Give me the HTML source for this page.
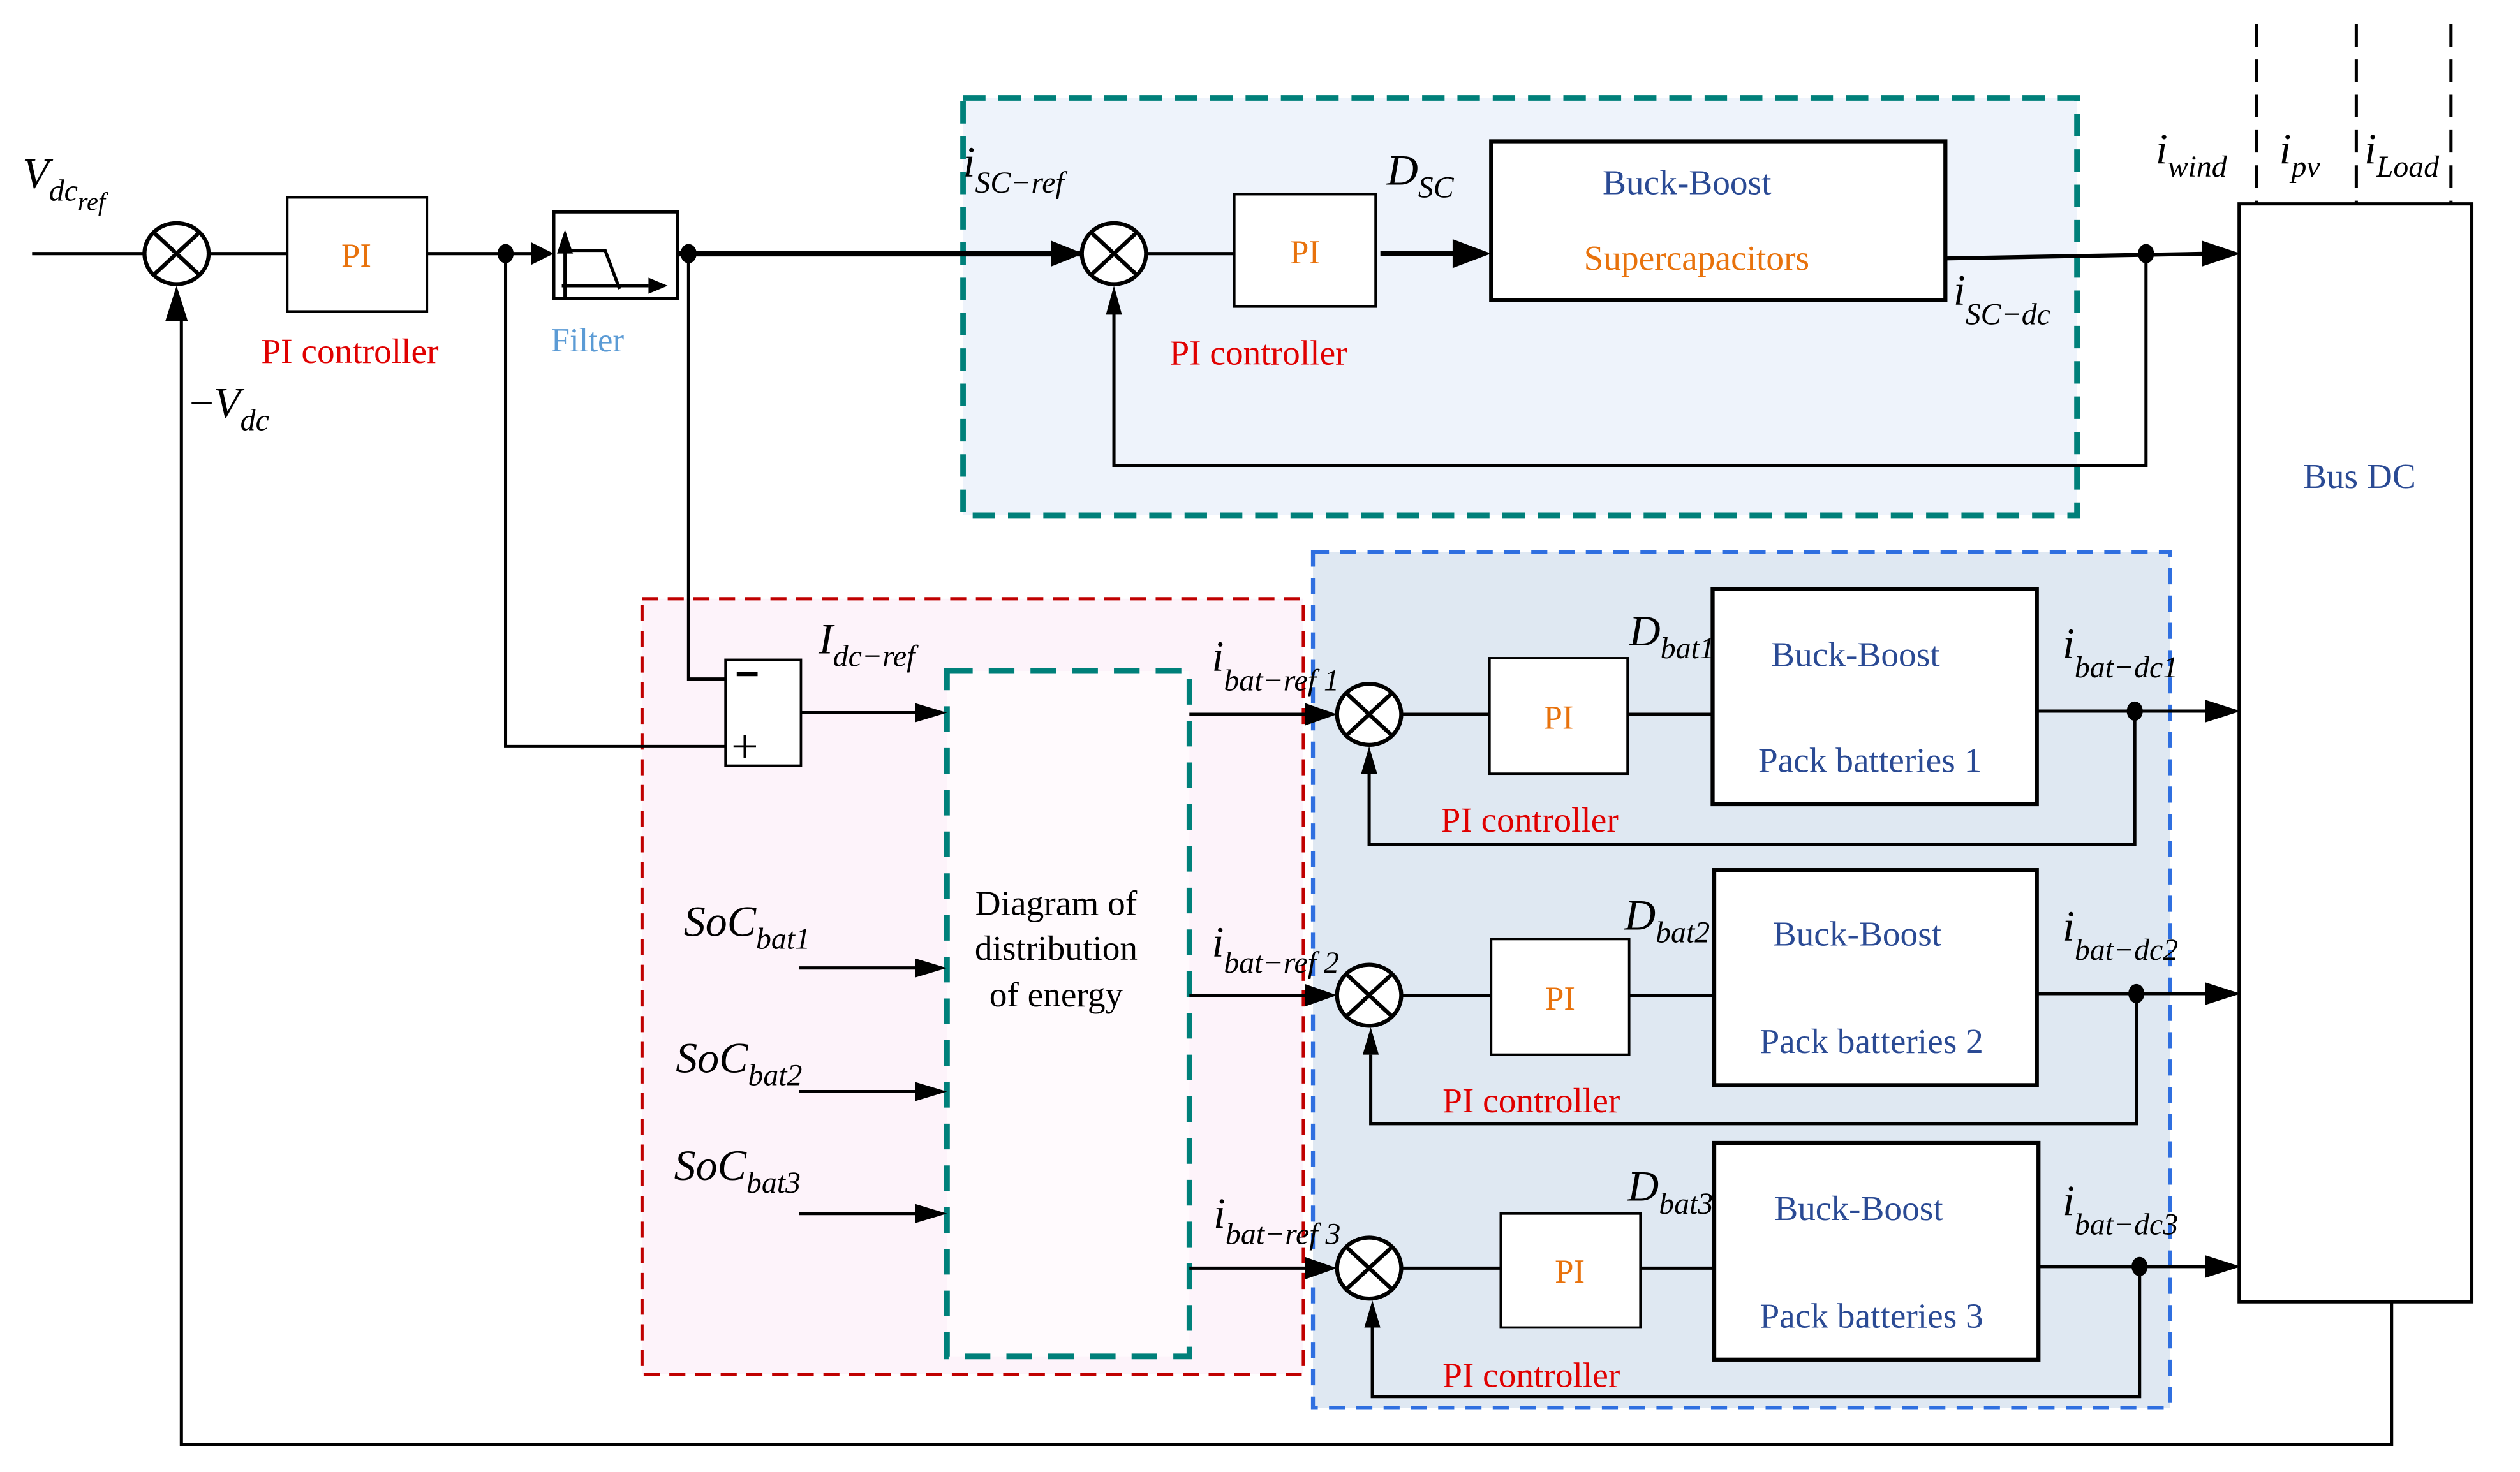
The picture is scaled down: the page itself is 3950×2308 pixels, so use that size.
<!DOCTYPE html>
<html><head><meta charset="utf-8"><style>
html,body{margin:0;padding:0;background:#fff;}
svg{display:block;}
text{font-family:"Liberation Serif",serif;}
.m{font-style:italic;fill:#000;font-size:27px;}
.s{font-size:19px;}
.r{fill:#e00000;font-size:22px;}
.o{fill:#e8720c;font-size:21px;}
.b{fill:#2a4a94;font-size:22px;}
</style></head><body>
<svg width="3950" height="2308" viewBox="0 0 1570 917" preserveAspectRatio="none" xmlns="http://www.w3.org/2000/svg">
<rect width="1570" height="917" fill="#fff"/>
<!-- panels -->
<rect x="600" y="61" width="694" height="260" fill="#eef3fb" stroke="#00807a" stroke-width="3.5" stroke-dasharray="14,8"/>
<rect x="400" y="373" width="412" height="483" fill="#fdf3fa" stroke="#c00000" stroke-width="2" stroke-dasharray="10,6"/>
<rect x="818" y="344" width="534" height="533" fill="#dfe8f2" stroke="#2f6fe0" stroke-width="2.5" stroke-dasharray="10,7"/>
<rect x="590" y="418" width="151" height="427" fill="#fffafd" stroke="#00807a" stroke-width="3.5" stroke-dasharray="16,10"/>

<g stroke="#000" stroke-width="2" fill="none">
<line x1="20" y1="158" x2="90" y2="158"/>
<line x1="130" y1="158" x2="179" y2="158"/>
<line x1="266" y1="158" x2="335" y2="158"/>
<line x1="422" y1="158" x2="674" y2="158" stroke-width="3.5"/>
<line x1="714" y1="158" x2="769" y2="158"/>
<line x1="860" y1="158" x2="910" y2="158" stroke-width="3"/>
<line x1="1212" y1="161" x2="1378" y2="158" stroke-width="2.5"/>
<polyline points="1337,158 1337,290 694,290 694,195"/>
<polyline points="1490,811 1490,900 113,900 113,195"/>
<polyline points="429,158 429,423 452,423"/>
<polyline points="315,158 315,465 452,465"/>
<line x1="499" y1="444" x2="572" y2="444"/>
<line x1="498" y1="603" x2="572" y2="603"/>
<line x1="498" y1="680" x2="572" y2="680"/>
<line x1="498" y1="756" x2="572" y2="756"/>
<line x1="741" y1="445" x2="815" y2="445"/>
<line x1="873" y1="445" x2="928" y2="445"/>
<line x1="1014" y1="445" x2="1067" y2="445"/>
<line x1="1269" y1="443" x2="1378" y2="443"/>
<polyline points="1330,443 1330,526 853,526 853,482"/>
<line x1="741" y1="620" x2="815" y2="620"/>
<line x1="873" y1="620" x2="929" y2="620"/>
<line x1="1015" y1="620" x2="1068" y2="620"/>
<line x1="1269" y1="619" x2="1378" y2="619"/>
<polyline points="1331,619 1331,700 854,700 854,657"/>
<line x1="741" y1="790" x2="815" y2="790"/>
<line x1="873" y1="790" x2="935" y2="790"/>
<line x1="1022" y1="790" x2="1068" y2="790"/>
<line x1="1270" y1="789" x2="1378" y2="789"/>
<polyline points="1333,789 1333,870 855,870 855,827"/>
<line x1="1406" y1="15" x2="1406" y2="127" stroke-dasharray="14,8"/>
<line x1="1468" y1="15" x2="1468" y2="127" stroke-dasharray="14,8"/>
<line x1="1527" y1="15" x2="1527" y2="127" stroke-dasharray="14,8"/>
</g>
<g fill="#000">
<polygon points="345,158 331,151 331,165"/>
<polygon points="675,158 655,150 655,166"/>
<polygon points="929,158 905,149 905,167"/>
<polygon points="1396,158 1372,150 1372,166"/>
<polygon points="694,178 689,196 699,196"/>
<polygon points="110,178 103,200 117,200"/>
<polygon points="590,444 570,438 570,450"/>
<polygon points="590,603 570,597 570,609"/>
<polygon points="590,680 570,674 570,686"/>
<polygon points="590,756 570,750 570,762"/>
<polygon points="833,445 813,438 813,452"/>
<polygon points="833,620 813,613 813,627"/>
<polygon points="833,790 813,783 813,797"/>
<polygon points="853,465 848,482 858,482"/>
<polygon points="854,640 849,657 859,657"/>
<polygon points="855,810 850,827 860,827"/>
<polygon points="1396,443 1374,436 1374,450"/>
<polygon points="1396,619 1374,612 1374,626"/>
<polygon points="1396,789 1374,782 1374,796"/>
<ellipse cx="315" cy="158" rx="5" ry="6"/>
<ellipse cx="429" cy="158" rx="5" ry="6"/>
<ellipse cx="1337" cy="158" rx="5" ry="6"/>
<ellipse cx="1330" cy="443" rx="5" ry="6"/>
<ellipse cx="1331" cy="619" rx="5" ry="6"/>
<ellipse cx="1333" cy="789" rx="5" ry="6"/>
</g>
<g stroke="#000" stroke-width="2.5" fill="#fff">
<g transform="translate(110,158)"><ellipse rx="20" ry="19"/><line x1="-14" y1="-13" x2="14" y2="13"/><line x1="-14" y1="13" x2="14" y2="-13"/></g>
<g transform="translate(694,158)"><ellipse rx="20" ry="19"/><line x1="-14" y1="-13" x2="14" y2="13"/><line x1="-14" y1="13" x2="14" y2="-13"/></g>
<g transform="translate(853,445)"><ellipse rx="20" ry="19"/><line x1="-14" y1="-13" x2="14" y2="13"/><line x1="-14" y1="13" x2="14" y2="-13"/></g>
<g transform="translate(853,620)"><ellipse rx="20" ry="19"/><line x1="-14" y1="-13" x2="14" y2="13"/><line x1="-14" y1="13" x2="14" y2="-13"/></g>
<g transform="translate(853,790)"><ellipse rx="20" ry="19"/><line x1="-14" y1="-13" x2="14" y2="13"/><line x1="-14" y1="13" x2="14" y2="-13"/></g>
</g>
<g stroke="#000" fill="#fff">
<rect x="179" y="123" width="87" height="71" stroke-width="1.5"/>
<rect x="345" y="132" width="77" height="54" stroke-width="2"/>
<rect x="769" y="121" width="88" height="70" stroke-width="1.5"/>
<rect x="929" y="88" width="283" height="99" stroke-width="2.5"/>
<rect x="1395" y="127" width="145" height="684" stroke-width="2"/>
<rect x="452" y="411" width="47" height="66" stroke-width="1.5"/>
<rect x="928" y="410" width="86" height="72" stroke-width="1.5"/>
<rect x="929" y="585" width="86" height="72" stroke-width="1.5"/>
<rect x="935" y="756" width="87" height="71" stroke-width="1.5"/>
<rect x="1067" y="367" width="202" height="134" stroke-width="2.5"/>
<rect x="1068" y="542" width="201" height="134" stroke-width="2.5"/>
<rect x="1068" y="712" width="202" height="135" stroke-width="2.5"/>
</g>
<g stroke="#000" stroke-width="2" fill="none">
<line x1="352" y1="185" x2="352" y2="146"/>
<polyline points="352,156 377,156 386,180"/>
<line x1="350" y1="178" x2="404" y2="178"/>
</g>
<polygon points="352,143 347,158 357,158" fill="#000"/>
<polygon points="416,178 404,173 404,183" fill="#000"/>
<line x1="459" y1="420" x2="472" y2="420" stroke="#000" stroke-width="2.5"/>
<line x1="457" y1="465" x2="471" y2="465" stroke="#000" stroke-width="1.5"/>
<line x1="464" y1="458" x2="464" y2="472" stroke="#000" stroke-width="1.5"/>
<text class="o" x="222" y="166" text-anchor="middle">PI</text>
<text class="o" x="813" y="164" text-anchor="middle">PI</text>
<text class="o" x="971" y="454" text-anchor="middle">PI</text>
<text class="o" x="972" y="629" text-anchor="middle">PI</text>
<text class="o" x="978" y="799" text-anchor="middle">PI</text>
<text class="r" x="218" y="226" text-anchor="middle">PI controller</text>
<text class="r" x="784" y="227" text-anchor="middle">PI controller</text>
<text class="r" x="953" y="518" text-anchor="middle">PI controller</text>
<text class="r" x="954" y="693" text-anchor="middle">PI controller</text>
<text class="r" x="954" y="864" text-anchor="middle">PI controller</text>
<text x="366" y="219" text-anchor="middle" style="fill:#5b9bd5;font-size:21px">Filter</text>
<text class="b" x="1051" y="121" text-anchor="middle">Buck-Boost</text>
<text class="o" x="1057" y="168" text-anchor="middle" style="font-size:22px">Supercapacitors</text>
<text class="b" x="1470" y="304" text-anchor="middle">Bus  DC</text>
<text class="b" x="1156" y="415" text-anchor="middle">Buck-Boost</text>
<text class="b" x="1165" y="481" text-anchor="middle">Pack batteries  1</text>
<text class="b" x="1157" y="589" text-anchor="middle">Buck-Boost</text>
<text class="b" x="1166" y="656" text-anchor="middle">Pack batteries  2</text>
<text class="b" x="1158" y="760" text-anchor="middle">Buck-Boost</text>
<text class="b" x="1166" y="827" text-anchor="middle">Pack batteries  3</text>
<text x="658" y="570" text-anchor="middle" style="font-size:22px">Diagram of</text>
<text x="658" y="598" text-anchor="middle" style="font-size:22px">distribution</text>
<text x="658" y="627" text-anchor="middle" style="font-size:22px">of energy</text>
<text class="m" x="14" y="117">V<tspan class="s" dy="8">dc</tspan><tspan class="s" dy="6" style="font-size:16px">ref</tspan></text>
<text class="m" x="118" y="260"><tspan style="font-style:normal">−</tspan>V<tspan class="s" dy="8">dc</tspan></text>
<text class="m" x="600" y="110">i<tspan class="s" dy="10">SC−ref</tspan></text>
<text class="m" x="864" y="115">D<tspan class="s" dy="8">SC</tspan></text>
<text class="m" x="1217" y="190">i<tspan class="s" dy="12">SC−dc</tspan></text>
<text class="m" x="1343" y="102">i<tspan class="s" dy="8">wind</tspan></text>
<text class="m" x="1420" y="102">i<tspan class="s" dy="8">pv</tspan></text>
<text class="m" x="1473" y="102">i<tspan class="s" dy="8">Load</tspan></text>
<text class="m" x="510" y="407">I<tspan class="s" dy="8">dc−ref</tspan></text>
<text class="m" x="755" y="418">i<tspan class="s" dy="12">bat−ref 1</tspan></text>
<text class="m" x="755" y="596">i<tspan class="s" dy="10">bat−ref 2</tspan></text>
<text class="m" x="756" y="765">i<tspan class="s" dy="10">bat−ref 3</tspan></text>
<text class="m" x="1015" y="402">D<tspan class="s" dy="8">bat1</tspan></text>
<text class="m" x="1012" y="579">D<tspan class="s" dy="8">bat2</tspan></text>
<text class="m" x="1014" y="748">D<tspan class="s" dy="8">bat3</tspan></text>
<text class="m" x="1285" y="410">i<tspan class="s" dy="12">bat−dc1</tspan></text>
<text class="m" x="1285" y="586">i<tspan class="s" dy="12">bat−dc2</tspan></text>
<text class="m" x="1285" y="757">i<tspan class="s" dy="12">bat−dc3</tspan></text>
<text class="m" x="426" y="583">SoC<tspan class="s" dy="8">bat1</tspan></text>
<text class="m" x="421" y="668">SoC<tspan class="s" dy="8">bat2</tspan></text>
<text class="m" x="420" y="735">SoC<tspan class="s" dy="8">bat3</tspan></text>
</svg>
</body></html>
